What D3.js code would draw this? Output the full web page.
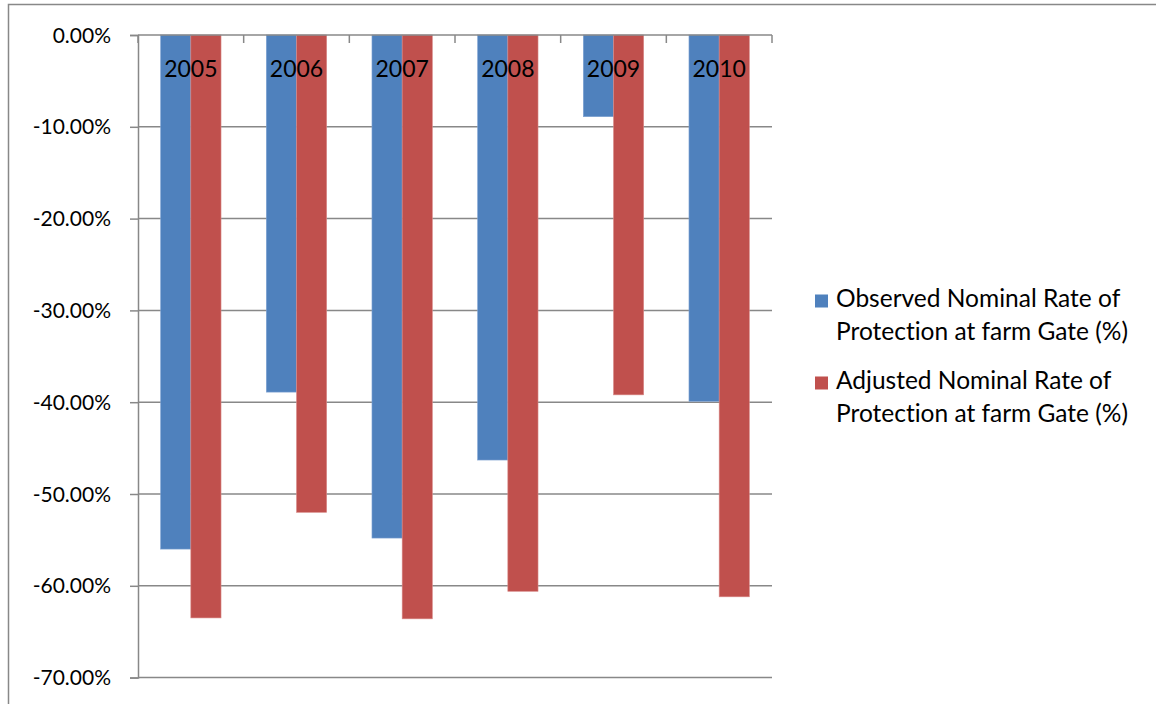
<!DOCTYPE html>
<html>
<head>
<meta charset="utf-8">
<script src="https://cdn.jsdelivr.net/npm/d3@7"></script>
<style>
  html, body { margin: 0; padding: 0; background: #fff; overflow: hidden; }
  svg { display: block; }
  text { font-family: Lato, "Open Sans", sans-serif; fill: #000; font-variant-ligatures: none; }
</style>
</head>
<body>
<svg id="chart" width="1156" height="704"></svg>
<script>
// ---- data ----
const years = ["2005", "2006", "2007", "2008", "2009", "2010"];
const seriesNames = [
  ["Observed Nominal Rate of", "Protection at farm Gate (%)"],
  ["Adjusted Nominal Rate of", "Protection at farm Gate (%)"]
];
const observed = [-0.560, -0.389, -0.548, -0.463, -0.089, -0.399];
const adjusted = [-0.635, -0.520, -0.636, -0.606, -0.392, -0.612];
const yTicks = [0, -0.1, -0.2, -0.3, -0.4, -0.5, -0.6, -0.7];
const colors = ["#4F81BD", "#C0504D"];

// ---- layout ----
const svg = d3.select("#chart");
const plot = { left: 138, right: 772, top: 35, bottom: 677.6 };
const gridColor = "#888888";

// outer chart frame (extends past viewport)
svg.append("rect")
  .attr("x", 8.5).attr("y", 4.5)
  .attr("width", 1300).attr("height", 900)
  .attr("fill", "none").attr("stroke", gridColor).attr("stroke-width", 1.5);

const x = d3.scaleBand().domain(years).range([plot.left, plot.right]).padding(0);
// Excel style: gap width 150% of bar width, two bars per category
const catW = x.bandwidth();
const barW = catW / 3.5;
const y = d3.scaleLinear().domain([0, -0.7]).range([plot.top, plot.bottom]);

// gridlines
svg.append("g").selectAll("line").data(yTicks.slice(1)).join("line")
  .attr("x1", plot.left).attr("x2", plot.right)
  .attr("y1", d => y(d)).attr("y2", d => y(d))
  .attr("stroke", gridColor).attr("stroke-width", 1.5);

// y axis
const pct = d => (d < 0 ? "-" : "") + d3.format(".2f")(Math.abs(d) * 100) + "%";
const yAxis = d3.axisLeft(y).tickValues(yTicks).tickSize(8).tickPadding(19)
  .tickFormat(pct);
const gy = svg.append("g").attr("transform", `translate(${plot.left},0)`).call(yAxis);
gy.select(".domain").attr("stroke", gridColor).attr("stroke-width", 1.5);
gy.selectAll(".tick line").attr("stroke", gridColor).attr("stroke-width", 1.5);
gy.selectAll(".tick text").attr("font-size", 21).attr("font-family", "Lato, sans-serif")
  .attr("fill", "#000").attr("dy", "0.34em");

// bars
const data = [observed, adjusted];
data.forEach((vals, si) => {
  svg.append("g").selectAll("rect").data(vals).join("rect")
    .attr("x", (d, i) => x(years[i]) + barW * 0.75 + si * barW)
    .attr("y", y(0))
    .attr("width", barW)
    .attr("height", d => y(d) - y(0))
    .attr("fill", colors[si])
    .attr("stroke", si === 0 ? "#7FA3D3" : "#D98C8A")
    .attr("stroke-width", 0.6);
});

// horizontal category axis at zero
svg.append("line").attr("x1", plot.left).attr("x2", plot.right)
  .attr("y1", y(0)).attr("y2", y(0)).attr("stroke", gridColor).attr("stroke-width", 1.5);
// category tick marks (boundaries)
const bounds = years.map(d => x(d)).concat([plot.right]);
svg.append("g").selectAll("line").data(bounds).join("line")
  .attr("x1", d => d).attr("x2", d => d)
  .attr("y1", y(0)).attr("y2", y(0) + 8)
  .attr("stroke", gridColor).attr("stroke-width", 1.5);

// category labels
svg.append("g").selectAll("text").data(years).join("text")
  .attr("x", d => x(d) + catW / 2)
  .attr("y", 77)
  .attr("text-anchor", "middle")
  .attr("font-size", 23)
  .text(d => d);

// legend
const legend = svg.append("g");
const legendY = [307, 389];
seriesNames.forEach((lines, i) => {
  legend.append("rect")
    .attr("x", 815).attr("y", legendY[i] - 12.5)
    .attr("width", 13).attr("height", 13)
    .attr("fill", colors[i]);
  lines.forEach((ln, j) => {
    legend.append("text")
      .attr("x", 836).attr("y", legendY[i] + j * 32.5)
      .attr("font-size", 24.5)
      .text(ln);
  });
});
</script>
</body>
</html>
